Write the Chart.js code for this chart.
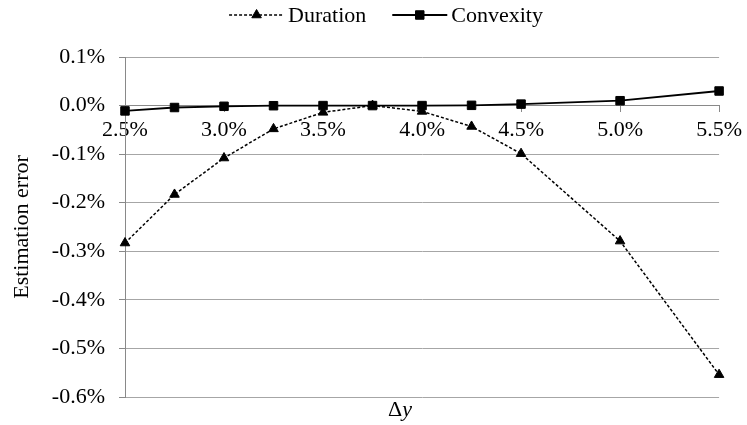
<!DOCTYPE html>
<html>
<head>
<meta charset="utf-8">
<script src="https://cdn.jsdelivr.net/npm/chart.js@4.4.0/dist/chart.umd.min.js"></script>
<style>
  html, body { margin: 0; padding: 0; background: #fff; }
</style>
</head>
<body>
<canvas id="errChart" width="747" height="425"></canvas>
<script>
// yield change (%) and estimation errors (%)
const yieldChange = [2.5, 2.75, 3.0, 3.25, 3.5, 3.75, 4.0, 4.25, 4.5, 5.0, 5.5];
const durationErr = [-0.283, -0.183, -0.108, -0.048, -0.014, 0.000, -0.012, -0.043, -0.099, -0.279, -0.554];
const convexityErr = [-0.011, -0.004, -0.0015, -0.0003, 0.000, 0.000, 0.000, 0.0005, 0.003, 0.010, 0.030];
const xTicks = [2.5, 3.0, 3.5, 4.0, 4.5, 5.0, 5.5];
const yTicks = [0.1, 0.0, -0.1, -0.2, -0.3, -0.4, -0.5, -0.6];

const FONT = '"Liberation Serif", "Times New Roman", serif';
const AXIS_GRAY = "#898989";
const GRID_GRAY = "#a6a6a6";

function pct(v) {
    if (Math.abs(v) < 1e-9) v = 0;
    return v.toFixed(1) + "%";
}

function toPoints(ys) {
    return yieldChange.map((x, i) => ({ x: x, y: ys[i] }));
}

// legend and the x-axis title (Δ upright, y italic)
const extraText = {
    id: "extraText",
    afterDraw(chart) {
        const ctx = chart.ctx;
        ctx.save();
        ctx.fillStyle = "#000";
        ctx.textBaseline = "middle";
        ctx.font = "22px " + FONT;

        const items = [
            { label: "Duration", dash: [3, 2], style: "triangle", radius: 5.5, width: 1.5 },
            { label: "Convexity", dash: [], style: "rect", radius: 6, width: 1.8 }
        ];
        const lineLen = 55, gap = 4, spacing = 26, ly = 15;
        let total = 0;
        items.forEach((it, i) => {
            it.tw = ctx.measureText(it.label).width;
            total += lineLen + gap + it.tw + (i ? spacing : 0);
        });
        let x = 386 - total / 2;
        items.forEach((it, i) => {
            if (i) x += spacing;
            ctx.save();
            ctx.strokeStyle = "#000";
            ctx.lineWidth = it.width;
            ctx.setLineDash(it.dash);
            ctx.beginPath();
            ctx.moveTo(x, ly);
            ctx.lineTo(x + lineLen, ly);
            ctx.stroke();
            ctx.setLineDash([]);
            ctx.fillStyle = "#000";
            ctx.lineWidth = 1;
            Chart.helpers.drawPoint(ctx, { pointStyle: it.style, radius: it.radius, rotation: 0, borderWidth: 1 }, x + lineLen / 2, ly);
            ctx.restore();
            x += lineLen + gap;
            ctx.textAlign = "left";
            ctx.fillText(it.label, x, ly + 1);
            x += it.tw;
        });

        // Δy
        ctx.font = "22px " + FONT;
        const wD = ctx.measureText("\u0394").width;
        ctx.font = "italic 22px " + FONT;
        const wY = ctx.measureText("y").width;
        const sx = 400 - (wD + wY) / 2;
        ctx.textAlign = "left";
        ctx.font = "22px " + FONT;
        ctx.fillText("\u0394", sx, 410);
        ctx.font = "italic 22px " + FONT;
        ctx.fillText("y", sx + wD, 410);
        ctx.restore();
    }
};

function drawChart() {
    const ctx = document.getElementById("errChart").getContext("2d");
    new Chart(ctx, {
        type: "line",
        data: {
            datasets: [
                {
                    label: "Duration",
                    data: toPoints(durationErr),
                    borderColor: "#000",
                    backgroundColor: "#000",
                    borderWidth: 1.5,
                    borderDash: [3, 2],
                    pointStyle: "triangle",
                    pointRadius: 5.5,
                    pointBorderWidth: 1,
                    pointBackgroundColor: "#000",
                    pointBorderColor: "#000",
                    tension: 0,
                    clip: false
                },
                {
                    label: "Convexity",
                    data: toPoints(convexityErr),
                    borderColor: "#000",
                    backgroundColor: "#000",
                    borderWidth: 1.8,
                    pointStyle: "rect",
                    pointRadius: 6,
                    pointBorderWidth: 1,
                    pointBackgroundColor: "#000",
                    pointBorderColor: "#000",
                    tension: 0,
                    clip: false
                }
            ]
        },
        options: {
            responsive: false,
            animation: false,
            layout: { padding: { left: 0, right: 25, top: 57, bottom: 28 } },
            plugins: {
                legend: { display: false },
                tooltip: { enabled: false }
            },
            scales: {
                x: {
                    type: "linear",
                    position: { y: 0 },
                    min: 2.5,
                    max: 5.5,
                    afterBuildTicks: s => { s.ticks = xTicks.map(v => ({ value: v })); },
                    ticks: {
                        callback: v => pct(v),
                        font: { family: FONT, size: 22 },
                        color: "#000",
                        padding: 5,
                        maxRotation: 0,
                        autoSkip: false
                    },
                    grid: {
                        drawOnChartArea: false,
                        drawTicks: true,
                        tickLength: 6,
                        tickColor: AXIS_GRAY
                    },
                    border: { display: true, color: AXIS_GRAY, width: 1 }
                },
                y: {
                    type: "linear",
                    position: "left",
                    min: -0.6,
                    max: 0.1,
                    afterBuildTicks: s => { s.ticks = yTicks.slice().reverse().map(v => ({ value: v })); },
                    afterFit: s => { s.width = 125; },
                    ticks: {
                        callback: v => pct(v),
                        font: { family: FONT, size: 22 },
                        color: "#000",
                        padding: 14,
                        autoSkip: false
                    },
                    grid: {
                        color: GRID_GRAY,
                        lineWidth: 1,
                        borderDash: [4, 2],
                        tickBorderDash: [],
                        tickColor: AXIS_GRAY,
                        tickLength: 6
                    },
                    border: { display: true, color: AXIS_GRAY, width: 1 },
                    title: {
                        display: true,
                        text: "Estimation error",
                        font: { family: FONT, size: 22 },
                        color: "#000",
                        padding: { top: 9, bottom: 0 }
                    }
                }
            }
        },
        plugins: [extraText]
    });
}

window.addEventListener("DOMContentLoaded", drawChart);
</script>
</body>
</html>
